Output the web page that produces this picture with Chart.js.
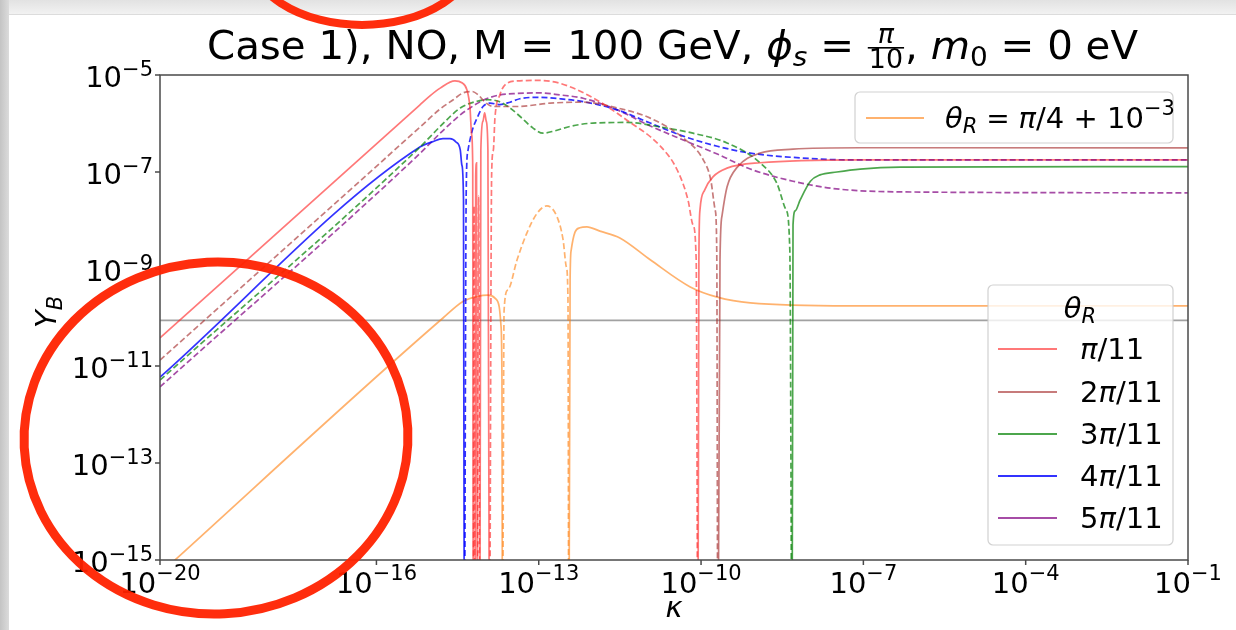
<!DOCTYPE html>
<html><head><meta charset="utf-8">
<script src="https://cdn.jsdelivr.net/npm/chart.js@4.4.1/dist/chart.umd.min.js"></script>
<style>html,body{margin:0;padding:0;background:#fff;overflow:hidden}#wrap{width:1236px;height:630px;position:relative}</style>
</head><body><div id="wrap"><canvas id="c" width="1236" height="630"></canvas></div>
<script>
// ---- data (kappa, signed Y_B: >0 drawn solid, <0 drawn dashed as |Y_B|) ----
const kRed = [1e-20,6.31e-16,9.77e-16,1.51e-15,2.82e-15,3.80e-15,4.68e-15,5.37e-15,5.75e-15,6.03e-15,6.17e-15,6.38e-15,6.61e-15,6.84e-15,7.08e-15,7.33e-15,7.76e-15,8.13e-15,8.51e-15,9.33e-15,1.00e-14,1.07e-14,1.15e-14,1.23e-14,1.35e-14,1.45e-14,1.55e-14,1.91e-14,2.69e-14,4.47e-14,8.51e-14,2.45e-13,1.00e-12,4.27e-12,1.74e-11,3.63e-11,5.75e-11,7.08e-11,8.13e-11,8.71e-11,9.12e-11,9.55e-11,1.17e-10,1.66e-10,3.02e-10,1.23e-9,8.71e-8,1e-1];
const yRed = [3.80e-11,2.40e-6,3.72e-6,5.37e-6,7.59e-6,6.92e-6,5.01e-6,2.09e-6,5.89e-7,1.20e-7,0,-2.0e-8,0,7.94e-8,1.55e-7,0,-3.2e-8,0,2.82e-7,1.12e-6,1.66e-6,1.12e-6,2.82e-7,0,-1.0e-7,-2.82e-7,-1.29e-6,-3.89e-6,-6.92e-6,-7.59e-6,-7.76e-6,-6.76e-6,-3.39e-6,-1.17e-6,-3.47e-7,-1.10e-7,-2.63e-8,-8.13e-9,-1.55e-9,0,1.55e-9,1.66e-8,4.27e-8,7.94e-8,1.20e-7,1.55e-7,1.78e-7,1.78e-7];

const kBrown = [1e-20,6.46e-16,1.51e-15,2.63e-15,3.98e-15,5.89e-15,7.59e-15,1.02e-14,1.45e-14,3.98e-14,1.62e-13,6.61e-13,2.82e-12,1.15e-11,4.68e-11,1.10e-10,1.51e-10,1.82e-10,1.95e-10,2.04e-10,2.24e-10,2.45e-10,3.02e-10,4.68e-10,1.23e-9,5.01e-9,8.71e-8,1e-1];
const yBrown = [-1.32e-11,-8.51e-7,-2.0e-6,-3.09e-6,-4.27e-6,-4.57e-6,-3.89e-6,-2.75e-6,-2.24e-6,-2.24e-6,-2.63e-6,-2.75e-6,-2.09e-6,-1.29e-6,-5.01e-7,-1.78e-7,-6.92e-8,-1.66e-8,-2.45e-9,0,1.55e-9,1.29e-8,4.90e-8,1.26e-7,2.45e-7,2.95e-7,3.16e-7,3.13e-7];

const kGreen = [1e-20,6.46e-16,1.51e-15,3.55e-15,7.24e-15,1.15e-14,1.78e-14,2.95e-14,4.47e-14,7.76e-14,1.20e-13,2.0e-13,3.80e-13,1e-12,4.27e-12,1.74e-11,7.08e-11,3.02e-10,1.23e-9,2.51e-9,3.72e-9,4.37e-9,4.79e-9,5.01e-9,5.50e-9,6.76e-9,1.05e-8,1.58e-8,3.24e-8,8.71e-8,4.79e-7,1e-1];
const yGreen = [-5.13e-12,-3.31e-7,-8.71e-7,-2.09e-6,-2.88e-6,-3.09e-6,-2.88e-6,-2.09e-6,-1.41e-6,-8.13e-7,-6.31e-7,-7.08e-7,-8.71e-7,-1.02e-6,-1.05e-6,-8.51e-7,-6.31e-7,-3.98e-7,-1.55e-7,-5.89e-8,-1.66e-8,-2.45e-9,0,8.13e-9,1.58e-8,2.63e-8,6.46e-8,8.71e-8,1.0e-7,1.15e-7,1.26e-7,1.29e-7];

const kBlue = [1e-20,6.46e-16,1.07e-15,1.70e-15,2.29e-15,2.95e-15,3.55e-15,3.80e-15,4.07e-15,4.22e-15,4.57e-15,4.90e-15,5.89e-15,7.24e-15,9.33e-15,1.26e-14,1.91e-14,2.95e-14,4.47e-14,1.05e-13,2.45e-13,6.61e-13,2.82e-12,1.15e-11,4.68e-11,2.0e-10,8.13e-10,5.01e-9,5.62e-8,1e-1];
const yBlue = [5.89e-12,3.31e-7,4.17e-7,4.90e-7,4.90e-7,4.17e-7,2.82e-7,1.38e-7,2.63e-8,0,-4.27e-8,-2.69e-7,-7.08e-7,-1.29e-6,-2.24e-6,-2.63e-6,-2.45e-6,-2.75e-6,-3.24e-6,-3.47e-6,-3.24e-6,-2.82e-6,-1.91e-6,-1.02e-6,-5.50e-7,-3.39e-7,-2.45e-7,-2.0e-7,-1.78e-7,-1.78e-7];

const kPurple = [1e-20,6.46e-16,1.51e-15,3.55e-15,5.37e-15,9.33e-15,1.91e-14,3.98e-14,1.05e-13,2.45e-13,6.61e-13,2.82e-12,1.15e-11,4.68e-11,2.0e-10,8.13e-10,5.01e-9,2.75e-8,4.79e-7,1e-1];
const yPurple = [-3.72e-12,-2.45e-7,-6.31e-7,-1.51e-6,-2.09e-6,-3.02e-6,-3.89e-6,-4.17e-6,-4.27e-6,-3.89e-6,-3.31e-6,-1.91e-6,-8.91e-7,-4.57e-7,-2.34e-7,-1.15e-7,-6.46e-8,-4.57e-8,-3.89e-8,-3.72e-8];

const kOrange = [1e-20,1.70e-15,3.98e-15,7.24e-15,1.15e-14,1.55e-14,1.86e-14,2.0e-14,2.09e-14,2.14e-14,2.29e-14,2.69e-14,3.98e-14,6.03e-14,9.33e-14,1.41e-13,2.19e-13,2.82e-13,3.24e-13,3.47e-13,3.59e-13,3.80e-13,3.98e-13,4.68e-13,5.75e-13,7.76e-13,1.35e-12,3.16e-12,1.15e-11,6.31e-11,2.0e-10,8.13e-10,5.62e-8,1e-1];
const yOrange = [5.25e-16,9.77e-11,2.14e-10,2.69e-10,2.88e-10,2.51e-10,1.66e-10,7.08e-11,5.13e-12,0,-1.41e-10,-3.72e-10,-1.55e-9,-5.50e-9,-1.41e-8,-2.0e-8,-1.17e-8,-3.98e-9,-1.10e-9,-2.29e-10,0,5.89e-10,2.45e-9,5.75e-9,7.08e-9,7.41e-9,6.03e-9,4.37e-9,1.55e-9,4.27e-10,2.63e-10,2.0e-10,1.74e-10,1.74e-10];

const observedYB = 8.7e-11;
const xTickExps = [-20,-16,-13,-10,-7,-4,-1];
const yTickExps = [-5,-7,-9,-11,-13,-15];
const thetaLabels = ['π/11','2π/11','3π/11','4π/11','5π/11'];

// ---- styling ----
const colRed='rgba(255,30,30,0.6)', colBrown='rgba(165,42,42,0.62)', colGreen='rgba(0,128,0,0.7)',
      colBlue='rgba(0,0,255,0.8)', colPurple='rgba(128,0,128,0.7)', colOrange='rgba(255,127,14,0.6)';
const FLOOR = 1e-19;
function split(k, y){
  const pos=[], neg=[];
  for(let i=0;i<k.length;i++){
    const v=y[i];
    if(v===0){pos.push({x:k[i],y:FLOOR});neg.push({x:k[i],y:FLOOR});}
    else if(v>0){pos.push({x:k[i],y:v});neg.push({x:k[i],y:null});}
    else {neg.push({x:k[i],y:-v});pos.push({x:k[i],y:null});}
  }
  return {pos,neg};
}
const series=[[kRed,yRed,colRed],[kBrown,yBrown,colBrown],[kGreen,yGreen,colGreen],[kBlue,yBlue,colBlue],[kPurple,yPurple,colPurple],[kOrange,yOrange,colOrange]];
const datasets=[];
series.forEach(([k,y,c])=>{
  const s=split(k,y);
  datasets.push({data:s.pos,borderColor:c,borderWidth:1.7});
  datasets.push({data:s.neg,borderColor:c,borderWidth:1.7,borderDash:[6,3]});
});
datasets.push({data:[{x:1e-20,y:observedYB},{x:1e-1,y:observedYB}],borderColor:'rgba(110,110,110,0.65)',borderWidth:1.8,cubicInterpolationMode:'default',tension:0});

const FF="'DejaVu Sans','Liberation Sans',sans-serif";
function fnt(s,it){return (it?'italic ':'')+s+'px '+FF;}
function rw(ctx,segs){let w=0;for(const s of segs){ctx.font=fnt(s.s,s.i);w+=ctx.measureText(s.t).width;}return w;}
function rd(ctx,segs,x,y){let cx=x;for(const s of segs){ctx.font=fnt(s.s,s.i);ctx.fillText(s.t,cx,y+(s.dy||0));cx+=ctx.measureText(s.t).width;}return cx;}

const decor={
  id:'decor',
  beforeDraw(chart){
    const ctx=chart.ctx;ctx.save();
    ctx.fillStyle='#fff';ctx.fillRect(0,0,1236,630);
    let g=ctx.createLinearGradient(0,0,0,15);g.addColorStop(0,'#e2e2e2');g.addColorStop(1,'#f3f3f3');
    ctx.fillStyle=g;ctx.fillRect(0,0,1236,15);
    ctx.fillStyle='#dcdcdc';ctx.fillRect(0,14,1236,1);
    g=ctx.createLinearGradient(0,0,10,0);g.addColorStop(0,'#c4c4c4');g.addColorStop(1,'#dedede');
    ctx.fillStyle=g;ctx.fillRect(0,0,9,630);
    ctx.restore();
  },
  afterDraw(chart){
    const ctx=chart.ctx, a=chart.chartArea, xs=chart.scales.x, ys=chart.scales.y;
    ctx.save();
    // frame
    ctx.strokeStyle='#4a4a4a';ctx.lineWidth=1.5;
    ctx.strokeRect(a.left,a.top,a.right-a.left,a.bottom-a.top);
    ctx.fillStyle='#000';ctx.textAlign='left';ctx.textBaseline='alphabetic';
    // x ticks
    xTickExps.forEach(e=>{
      const px=xs.getPixelForValue(Math.pow(10,e));
      ctx.beginPath();ctx.moveTo(px,a.bottom);ctx.lineTo(px,a.bottom+5);ctx.stroke();
      const segs=[{t:'10',s:29},{t:'−'+Math.abs(e),s:21,dy:-13}];
      const w=rw(ctx,segs);rd(ctx,segs,px-w/2,a.bottom+33);
    });
    // y ticks
    yTickExps.forEach(e=>{
      const py=ys.getPixelForValue(Math.pow(10,e));
      ctx.beginPath();ctx.moveTo(a.left-5,py);ctx.lineTo(a.left,py);ctx.stroke();
      const segs=[{t:'10',s:29},{t:'−'+Math.abs(e),s:21,dy:-11}];
      const w=rw(ctx,segs);rd(ctx,segs,a.left-7-w,py+12);
    });
    // axis labels
    ctx.font=fnt(29,true);ctx.textAlign='center';ctx.fillText('κ',(a.left+a.right)/2,617);
    ctx.textAlign='left';
    ctx.save();ctx.translate(56,312);ctx.rotate(-Math.PI/2);
    const yl=[{t:'Y',s:29,i:1},{t:'B',s:21,i:1,dy:6}];
    rd(ctx,yl,-rw(ctx,yl)/2,0);ctx.restore();
    // title
    const T=39;
    const part1=[{t:'Case 1), NO, M = 100 GeV, ',s:T},{t:'ϕ',s:T,i:1},{t:'s',s:27,i:1,dy:7},{t:' = ',s:T}];
    const part2=[{t:', ',s:T},{t:'m',s:T,i:1},{t:'0',s:27,dy:7},{t:' = 0 eV',s:T}];
    ctx.font=fnt(26,true);const wn=ctx.measureText('π').width;ctx.font=fnt(26);const wd=ctx.measureText('10').width;
    const wf=Math.max(wn,wd)+4;
    const w1=rw(ctx,part1),w2=rw(ctx,part2),tw=w1+wf+w2;
    const sx=931/tw;
    ctx.save();ctx.translate(207,0);ctx.scale(sx,1);
    const by=59;
    rd(ctx,part1,0,by);
    ctx.font=fnt(26,true);ctx.fillText('π',w1+(wf-wn)/2,by-16);
    ctx.fillRect(w1+1,by-12,wf-2,1.6);
    ctx.font=fnt(26);ctx.fillText('10',w1+(wf-wd)/2,by+9);
    rd(ctx,part2,w1+wf,by);
    ctx.restore();
    // legend helpers
    function box(x0,y0,x1,y1){
      ctx.beginPath();ctx.roundRect(x0,y0,x1-x0,y1-y0,5);
      ctx.fillStyle='rgba(255,255,255,0.8)';ctx.fill();
      ctx.strokeStyle='rgba(204,204,204,0.9)';ctx.lineWidth=1.2;ctx.stroke();
      ctx.fillStyle='#000';
    }
    function sample(x0,x1,y,c){ctx.beginPath();ctx.moveTo(x0,y);ctx.lineTo(x1,y);ctx.strokeStyle=c;ctx.lineWidth=2;ctx.stroke();}
    // legend 1
    box(855,92,1173,143);
    sample(866,924,118,colOrange);
    rd(ctx,[{t:'θ',s:29,i:1},{t:'R',s:21,i:1,dy:5},{t:' = ',s:28},{t:'π',s:29,i:1},{t:'/4 + 10',s:29},{t:'−3',s:21,dy:-13}],945,128);
    // legend 2
    box(988,285,1173,545);
    const tl=[{t:'θ',s:29,i:1},{t:'R',s:21,i:1,dy:5}];
    rd(ctx,tl,1080-rw(ctx,tl)/2,318);
    const lc=[colRed,colBrown,colGreen,colBlue,colPurple];
    const ly=[349,392,434,476,518];
    thetaLabels.forEach((lab,i)=>{
      sample(998,1057,ly[i],lc[i]);
      const idx=lab.indexOf('π');
      rd(ctx,[{t:lab.slice(0,idx),s:29},{t:'π',s:29,i:1},{t:lab.slice(idx+1),s:29}],1080,ly[i]+10);
    });
    // red hand-drawn circles
    ctx.strokeStyle='rgba(255,34,0,0.95)';
    ctx.lineWidth=9;
    ctx.beginPath();ctx.ellipse(216,438,192,176,-0.05,0,2*Math.PI);ctx.stroke();
    ctx.lineWidth=8;
    ctx.beginPath();ctx.ellipse(362,-50,115,75,0,0,Math.PI);ctx.stroke();
    ctx.restore();
  }
};

new Chart(document.getElementById('c').getContext('2d'),{
  type:'line',
  data:{datasets},
  options:{
    responsive:false,animation:false,devicePixelRatio:1,events:[],
    layout:{padding:{left:160,right:48,top:75,bottom:70}},
    scales:{
      x:{type:'logarithmic',min:1e-20,max:1e-1,display:false},
      y:{type:'logarithmic',min:1e-15,max:1e-5,display:false}
    },
    plugins:{legend:{display:false},tooltip:{enabled:false}},
    elements:{point:{radius:0},line:{cubicInterpolationMode:'monotone',borderCapStyle:'butt'}}
  },
  plugins:[decor]
});
</script></body></html>
